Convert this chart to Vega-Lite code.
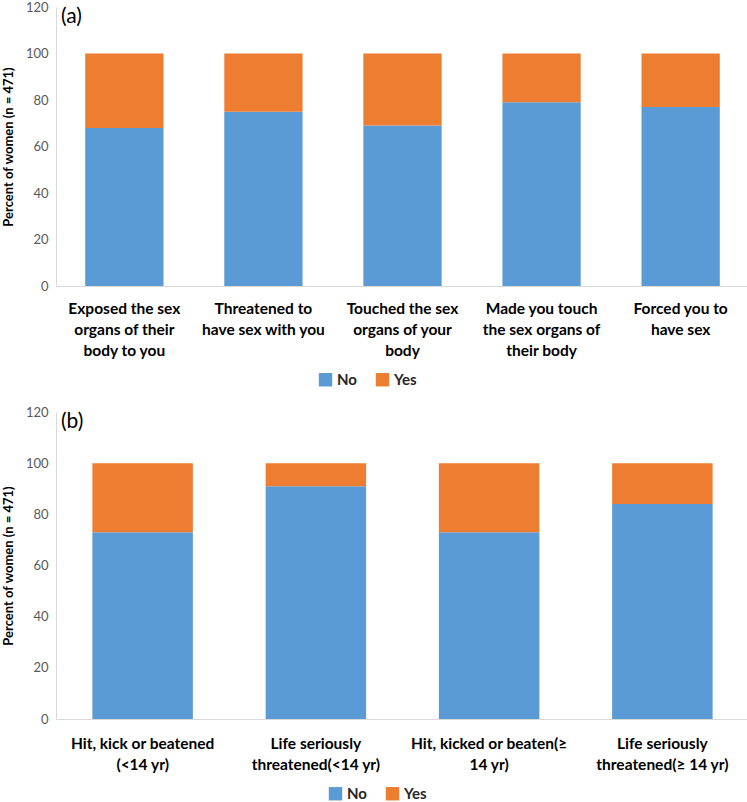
{
  "$schema": "https://vega.github.io/schema/vega-lite/v6.json",
  "padding": {"left": 2, "top": 1, "right": 2, "bottom": 0},
  "spacing": 18,
  "config": {
    "view": {"stroke": null},
    "font": "Lato",
    "axis": {"domainColor": "#D9D9D9", "ticks": false, "grid": false, "labelColor": "#595959", "labelFont": "Lato", "titleFont": "Lato"},
    "legend": {"labelFont": "Lato", "labelFontSize": 15, "labelFontWeight": "bold", "labelColor": "#262626", "symbolType": "square", "symbolSize": 180, "symbolStrokeWidth": 0}
  },
  "vconcat": [
    {
      "width": 693,
      "height": 279,
      "title": {"text": "(a)", "anchor": "start", "frame": "group", "fontSize": 21, "fontWeight": "normal", "color": "#000000", "offset": -26, "dx": 5},
      "data": {"values": [
        {"cat": "Exposed the sex|organs of their|body to you", "resp": "No", "pct": 68},
        {"cat": "Exposed the sex|organs of their|body to you", "resp": "Yes", "pct": 32},
        {"cat": "Threatened to|have sex with you", "resp": "No", "pct": 75},
        {"cat": "Threatened to|have sex with you", "resp": "Yes", "pct": 25},
        {"cat": "Touched the sex|organs of your|body", "resp": "No", "pct": 69},
        {"cat": "Touched the sex|organs of your|body", "resp": "Yes", "pct": 31},
        {"cat": "Made you touch|the sex organs of|their body", "resp": "No", "pct": 79},
        {"cat": "Made you touch|the sex organs of|their body", "resp": "Yes", "pct": 21},
        {"cat": "Forced you to|have sex", "resp": "No", "pct": 77},
        {"cat": "Forced you to|have sex", "resp": "Yes", "pct": 23}
      ]},
      "mark": {"type": "bar"},
      "encoding": {
        "x": {"field": "cat", "type": "nominal", "sort": null, "title": null,
          "scale": {"paddingInner": 0.437, "paddingOuter": 0.21},
          "axis": {"labelAngle": 0, "labelExpr": "split(datum.label, '|')", "labelFontSize": 15.5, "labelFontWeight": "bold", "labelColor": "#000000", "labelLineHeight": 21, "labelPadding": 15, "labelLimit": 200}},
        "y": {"field": "pct", "type": "quantitative", "stack": "zero", "title": "Percent of women (n = 471)",
          "scale": {"domain": [0, 120]},
          "axis": {"values": [0, 20, 40, 60, 80, 100, 120], "labelFontSize": 13, "titleFontSize": 13, "titleFontWeight": "bold", "titleColor": "#000000", "labelPadding": 8, "titlePadding": 10}},
        "color": {"field": "resp", "type": "nominal", "title": null,
          "scale": {"domain": ["No", "Yes"], "range": ["#5B9BD5", "#ED7D31"]},
          "legend": {"orient": "none", "direction": "horizontal", "legendX": 262, "legendY": 365, "columnPadding": 18}},
        "order": {"field": "resp", "sort": "ascending"}
      }
    },
    {
      "width": 693,
      "height": 307,
      "title": {"text": "(b)", "anchor": "start", "frame": "group", "fontSize": 21, "fontWeight": "normal", "color": "#000000", "offset": -26, "dx": 5},
      "data": {"values": [
        {"cat": "Hit, kick or beatened|(<14 yr)", "resp": "No", "pct": 73},
        {"cat": "Hit, kick or beatened|(<14 yr)", "resp": "Yes", "pct": 27},
        {"cat": "Life seriously|threatened(<14 yr)", "resp": "No", "pct": 91},
        {"cat": "Life seriously|threatened(<14 yr)", "resp": "Yes", "pct": 9},
        {"cat": "Hit, kicked or beaten(≥|14 yr)", "resp": "No", "pct": 73},
        {"cat": "Hit, kicked or beaten(≥|14 yr)", "resp": "Yes", "pct": 27},
        {"cat": "Life seriously|threatened(≥ 14 yr)", "resp": "No", "pct": 84},
        {"cat": "Life seriously|threatened(≥ 14 yr)", "resp": "Yes", "pct": 16}
      ]},
      "mark": {"type": "bar"},
      "encoding": {
        "x": {"field": "cat", "type": "nominal", "sort": null, "title": null,
          "scale": {"paddingInner": 0.42, "paddingOuter": 0.21},
          "axis": {"labelAngle": 0, "labelExpr": "split(datum.label, '|')", "labelFontSize": 15.5, "labelFontWeight": "bold", "labelColor": "#000000", "labelLineHeight": 21, "labelPadding": 17, "labelLimit": 200}},
        "y": {"field": "pct", "type": "quantitative", "stack": "zero", "title": "Percent of women (n = 471)",
          "scale": {"domain": [0, 120]},
          "axis": {"values": [0, 20, 40, 60, 80, 100, 120], "labelFontSize": 13, "titleFontSize": 13, "titleFontWeight": "bold", "titleColor": "#000000", "labelPadding": 8, "titlePadding": 10}},
        "color": {"field": "resp", "type": "nominal", "title": null,
          "scale": {"domain": ["No", "Yes"], "range": ["#5B9BD5", "#ED7D31"]},
          "legend": {"orient": "none", "direction": "horizontal", "legendX": 272, "legendY": 374, "columnPadding": 18}},
        "order": {"field": "resp", "sort": "ascending"}
      }
    }
  ],
  "resolve": {"legend": {"color": "independent"}, "scale": {"color": "independent", "x": "independent", "y": "independent"}}
}
